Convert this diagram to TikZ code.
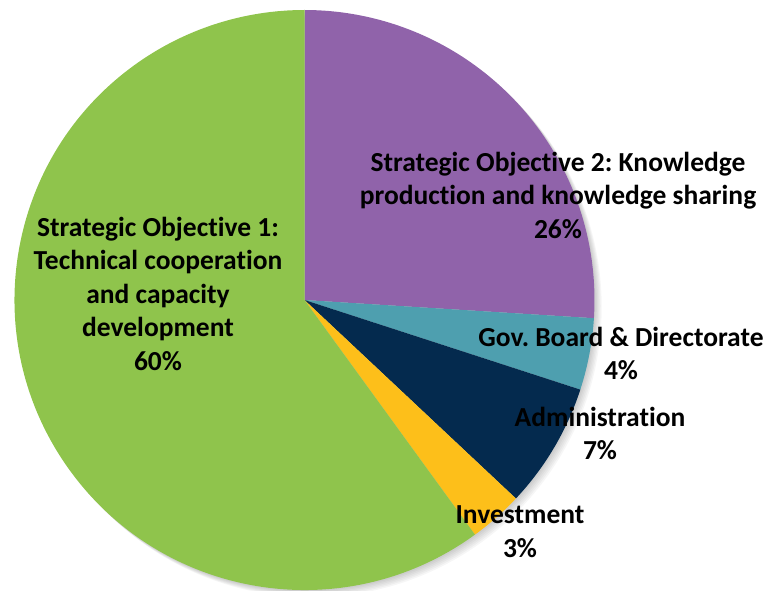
\documentclass[tikz,border=0pt]{standalone}
\usepackage{fontspec}
\setmainfont{Carlito}[Ligatures=NoCommon]
\usepackage{tikz}
\usetikzlibrary{calc}
\frenchspacing

\definecolor{sogreen}{HTML}{8FC44C}
\definecolor{sopurple}{HTML}{9063AA}
\definecolor{govteal}{HTML}{4E9FAF}
\definecolor{adminnavy}{HTML}{042A4E}
\definecolor{invyellow}{HTML}{FDBF1A}

\begin{document}
\begin{tikzpicture}[x=1pt,y=1pt,
    lbl/.style={align=center,font=\fontsize{27.5}{33.5}\selectfont\bfseries,inner sep=0pt}]
      \useasboundingbox (0,0) rectangle (773,590);
      \coordinate (c) at (304.5,290);

      % soft shadow
      \foreach \i in {1,...,6}
        \fill[black,opacity=0.035] ($(c)+(1.2*\i,-1.2*\i)$) circle (290pt);

      \fill[sopurple] (c) -- ++(90:290pt) arc[start angle=90,end angle=-3.6,radius=290pt] -- cycle;
      \fill[govteal] (c) -- ++(-3.6:290pt) arc[start angle=-3.6,end angle=-18,radius=290pt] -- cycle;
      \fill[adminnavy] (c) -- ++(-18:290pt) arc[start angle=-18,end angle=-43.2,radius=290pt] -- cycle;
      \fill[invyellow] (c) -- ++(-43.2:290pt) arc[start angle=-43.2,end angle=-54,radius=290pt] -- cycle;
      \fill[sogreen] (c) -- ++(-54:290pt) arc[start angle=-54,end angle=-270,radius=290pt] -- cycle;

      \node[lbl] (so2) at (558,395) {Strategic Objective 2: Knowledge\\production and knowledge sharing\\26\%};
      \node[lbl] (so1) at (158,296.5) {Strategic Objective 1:\\Technical cooperation\\and capacity\\development\\60\%};
      \node[lbl] (gov) at (621,236.5) {Gov. Board \& Directorate\\4\%};
      \node[lbl] (admin) at (600,156.5) {Administration\\7\%};
      \node[lbl] (inv) at (520,58.5) {Investment\\3\%};
    \end{tikzpicture}
\end{document}
